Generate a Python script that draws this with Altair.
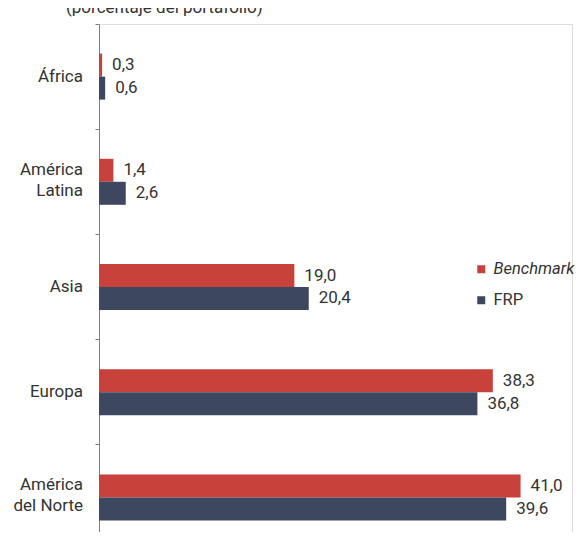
import altair as alt
import pandas as pd

regions = ["África", "América\nLatina", "Asia", "Europa", "América\ndel Norte"]
benchmark = [0.3, 1.4, 19.0, 38.3, 41.0]
frp = [0.6, 2.6, 20.4, 36.8, 39.6]
series = ["Benchmark", "FRP"]
colors = ["#C8413A", "#3E4760"]
title_text = "(porcentaje del portafolio)"

rows = []
for r, b, f in zip(regions, benchmark, frp):
    rows.append({"region": r, "serie": series[0], "valor": b})
    rows.append({"region": r, "serie": series[1], "valor": f})
df = pd.DataFrame(rows)
df["etiqueta"] = df["valor"].map(lambda v: f"{v:.1f}".replace(".", ","))
cats = pd.DataFrame({"region": regions})
cats["lineas"] = cats["region"].str.count("\n") + 1

offset_domain = ["_pad1"] + series + ["_pad2"]

yscale = alt.Scale(domain=regions, range=[0, 526], paddingInner=0, paddingOuter=0)
yoff = alt.Scale(domain=offset_domain, paddingInner=0, paddingOuter=0.287)
xscale = alt.Scale(domain=[0, 46], nice=False, zero=True)

base = alt.Chart(df)

bars = base.mark_bar().encode(
    y=alt.Y("region:N", scale=yscale, sort=regions, title=None,
            axis=alt.Axis(labels=False, bandPosition=0, tickSize=4, tickColor="#7f7f7f",
                          domainColor="#7f7f7f", tickWidth=1, domainWidth=1, grid=False)),
    yOffset=alt.YOffset("serie:N", scale=yoff),
    x=alt.X("valor:Q", scale=xscale, axis=None),
    color=alt.Color("serie:N", scale=alt.Scale(domain=series, range=colors),
                    legend=alt.Legend(orient="none", legendX=374, legendY=237, title=None,
                                      symbolType="square", symbolSize=64, symbolStrokeWidth=0,
                                      labelFontSize=16.5, labelFont="Roboto", labelColor="#333333",
                                      labelOffset=4, rowPadding=14, padding=0,
                                      labelFontStyle={"expr": "datum.label == 'Benchmark' ? 'italic' : 'normal'"})),
)

vals = base.mark_text(align="left", baseline="middle", dx=10, fontSize=17, color="#333333",
                      font="Roboto", fontWeight=400).encode(
    y=alt.Y("region:N", scale=yscale, sort=regions),
    yOffset=alt.YOffset("serie:N", scale=yoff),
    x=alt.X("valor:Q", scale=xscale),
    text="etiqueta:N",
)

label_props = dict(align="right", baseline="middle", dx=-16, fontSize=17, color="#333333",
                   font="Roboto", fontWeight=400, lineBreak="\n", lineHeight=21)

labels1 = alt.Chart(cats).transform_filter("datum.lineas == 1").mark_text(**label_props).encode(
    y=alt.Y("region:N", scale=yscale, sort=regions),
    x=alt.value(0),
    text="region:N",
)
labels2 = alt.Chart(cats).transform_filter("datum.lineas == 2").mark_text(dy=-12, **label_props).encode(
    y=alt.Y("region:N", scale=yscale, sort=regions),
    x=alt.value(0),
    text="region:N",
)

chart = alt.layer(bars, vals, labels1, labels2).properties(
    width=473, height=508,
    autosize=alt.AutoSizeParams(type="none"),
    padding={"left": 91, "top": 16, "right": 7, "bottom": 0},
    title=alt.TitleParams(title_text, anchor="start", frame="group", dx=-33, offset=0, dy=6,
                          baseline="alphabetic", fontSize=17, fontWeight="normal",
                          color="#333333", font="Roboto"),
).configure_view(stroke=None).configure(font="Roboto")

chart.save("out.html", embed_options={"renderer": "svg", "actions": False})
